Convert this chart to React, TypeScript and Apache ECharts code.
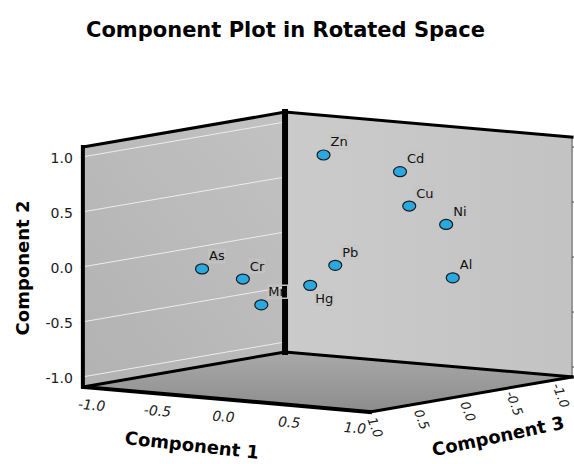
import React, { useEffect, useRef } from "react";
import * as echarts from "echarts";

// Rotated component loadings
const elementNames = ["Zn", "Cd", "Cu", "Ni", "Pb", "Al", "Hg", "As", "Cr", "Mn"];
const component1 = [-0.03, 0.41, 0.48, 0.69, 0.2, 0.74, 0.08, -0.53, -0.22, -0.08];
const component2 = [0.97, 0.835, 0.53, 0.37, 0.02, -0.11, -0.16, -0.03, -0.09, -0.31];
const component3 = [0.0, -0.2, -0.2, -0.3, 0.2, -0.3, 0.3, 0.6, 0.6, 0.6];

const tickValues = [-1, -0.5, 0, 0.5, 1];
const tickLabels = ["-1.0", "-0.5", "0.0", "0.5", "1.0"];
const labelBelow = ["Hg"];

const EXT = 1.09; // box half-extent on every component axis

// oblique view: 3D (c1, c2, c3) -> 2D view units
function project(c1: number, c2: number, c3: number): number[] {
  return [1.197 * c1 - 0.843 * c3, c2 - 0.1045 * c1 - 0.146 * c3];
}

const FONT = '"DejaVu Sans", Verdana, sans-serif';

export default function App() {
  const ref = useRef<HTMLDivElement>(null);
  useEffect(() => {
    document.body.style.margin = "0";
    const chart = echarts.init(ref.current!, null, { renderer: "svg" });
    const m = EXT;

    const boxRender = (params: any, api: any) => {
      const P = (a: number, b: number, c: number) => api.coord(project(a, b, c));
      const L0 = P(-m, -m, m), L1 = P(-m, m, m);
      const B0 = P(-m, -m, -m), B1 = P(-m, m, -m);
      const R0 = P(m, -m, -m), R1 = P(m, m, -m);
      const F0 = P(m, -m, m);
      const children: any[] = [];
      children.push({
        type: "polygon",
        shape: { points: [L0, L1, B1, B0] },
        style: {
          fill: new echarts.graphic.LinearGradient(0, 1, 1, 0, [
            { offset: 0, color: "#b2b2b2" },
            { offset: 1, color: "#c2c2c2" },
          ]),
        },
      });
      children.push({
        type: "polygon",
        shape: { points: [B0, B1, R1, R0] },
        style: {
          fill: new echarts.graphic.LinearGradient(0, 0, 1, 0, [
            { offset: 0, color: "#cbcbcb" },
            { offset: 1, color: "#c3c3c3" },
          ]),
        },
      });
      children.push({
        type: "polygon",
        shape: { points: [L0, B0, R0, F0] },
        style: {
          fill: new echarts.graphic.LinearGradient(0, 1, 0, 0, [
            { offset: 0, color: "#8c8c8c" },
            { offset: 1, color: "#a9a9a9" },
          ]),
        },
      });
      // gridlines on left wall + ticks
      tickValues.forEach((v, i) => {
        const a = P(-m, v, m), b = P(-m, v, -m);
        children.push({
          type: "line",
          shape: { x1: a[0] - 4, y1: a[1] + 0.5, x2: b[0], y2: b[1] },
          style: { stroke: "#ececec", lineWidth: 1 },
        });
        const r = P(m, v, -m);
        children.push({
          type: "line",
          shape: { x1: r[0], y1: r[1], x2: r[0] + 3, y2: r[1] },
          style: { stroke: "#444", lineWidth: 1 },
        });
        children.push({
          type: "text",
          x: a[0] - 10,
          y: a[1] + 1,
          style: {
            text: tickLabels[i],
            fill: "#1a1a1a",
            fontFamily: FONT,
            fontSize: 14,
            align: "right",
            verticalAlign: "middle",
          },
        });
      });
      // edges
      const edge = (pts: number[][], w: number, c = "#000") =>
        children.push({
          type: "polyline",
          shape: { points: pts },
          style: { stroke: c, lineWidth: w, lineJoin: "miter", lineCap: "square", fill: null },
        });
      edge([R1, R0], 1, "#555");
      edge([L0, B0, R0], 3);
      edge([L1, B1, R1], 3);
      edge([L1, L0, F0], 4);
      edge([F0, R0], 3);
      edge([B1, B0], 6);
      // component 1 & 3 tick labels
      tickValues.forEach((v, i) => {
        const p = P(v, -m, m);
        children.push({
          type: "text",
          x: p[0] - 3,
          y: p[1] + 17,
          rotation: -0.087,
          style: {
            text: tickLabels[i],
            fill: "#1a1a1a",
            fontFamily: FONT,
            fontStyle: "italic",
            fontSize: 14,
            align: "center",
            verticalAlign: "middle",
          },
        });
        const q = P(m, -m, v);
        children.push({
          type: "text",
          x: q[0] - 3,
          y: q[1] + 17,
          rotation: -1.2,
          style: {
            text: tickLabels[i],
            fill: "#1a1a1a",
            fontFamily: FONT,
            fontStyle: "italic",
            fontSize: 13,
            align: "center",
            verticalAlign: "middle",
          },
        });
      });
      return { type: "group", children };
    };

    const pointRender = (params: any, api: any) => {
      const pt = api.coord(project(api.value(0), api.value(1), api.value(2)));
      const name = elementNames[params.dataIndex];
      const below = labelBelow.indexOf(name) >= 0;
      return {
        type: "group",
        children: [
          {
            type: "ellipse",
            shape: { cx: pt[0], cy: pt[1], rx: 6.5, ry: 5 },
            style: { fill: "#2aa9e0", stroke: "#1a1a1a", lineWidth: 1.2 },
          },
          {
            type: "text",
            x: pt[0] + (below ? 5 : 7),
            y: pt[1] + (below ? 13 : -13),
            style: {
              text: name,
              fill: "#111",
              fontFamily: FONT,
              fontSize: 13,
              align: "left",
              verticalAlign: "middle",
              textBorderColor: "#c4c4c4",
              textBorderWidth: 1.5,
            },
          },
        ],
      };
    };

    chart.setOption({
      animation: false,
      title: {
        text: "Component Plot in Rotated Space",
        left: 86,
        top: 19,
        padding: 0,
        textStyle: { fontFamily: FONT, fontWeight: "bold", fontSize: 21, color: "#000" },
      },
      grid: { left: 0, right: 0, top: 0, bottom: 0 },
      xAxis: { type: "value", min: -2.977, max: 2.241, show: false },
      yAxis: { type: "value", min: -1.836, max: 2.382, show: false },
      graphic: [
        {
          type: "text",
          x: 192,
          y: 445,
          rotation: -0.11,
          style: {
            text: "Component 1",
            fill: "#000",
            fontFamily: FONT,
            fontWeight: "bold",
            fontSize: 18,
            align: "center",
            verticalAlign: "middle",
          },
        },
        {
          type: "text",
          x: 498,
          y: 436,
          rotation: 0.21,
          style: {
            text: "Component 3",
            fill: "#000",
            fontFamily: FONT,
            fontWeight: "bold",
            fontSize: 18,
            align: "center",
            verticalAlign: "middle",
          },
        },
        {
          type: "text",
          x: 22,
          y: 268,
          rotation: Math.PI / 2,
          style: {
            text: "Component 2",
            fill: "#000",
            fontFamily: FONT,
            fontWeight: "bold",
            fontSize: 18,
            align: "center",
            verticalAlign: "middle",
          },
        },
      ],
      series: [
        {
          type: "custom",
          coordinateSystem: "cartesian2d",
          data: [[0, 0]],
          renderItem: boxRender,
          silent: true,
          z: 1,
        },
        {
          type: "custom",
          coordinateSystem: "cartesian2d",
          dimensions: ["c1", "c2", "c3"],
          encode: { x: 0, y: 1 },
          data: elementNames.map((_, i) => [component1[i], component2[i], component3[i]]),
          renderItem: pointRender,
          z: 5,
        },
      ],
    });
    return () => chart.dispose();
  }, []);
  return <div ref={ref} style={{ width: 574, height: 464 }} />;
}
